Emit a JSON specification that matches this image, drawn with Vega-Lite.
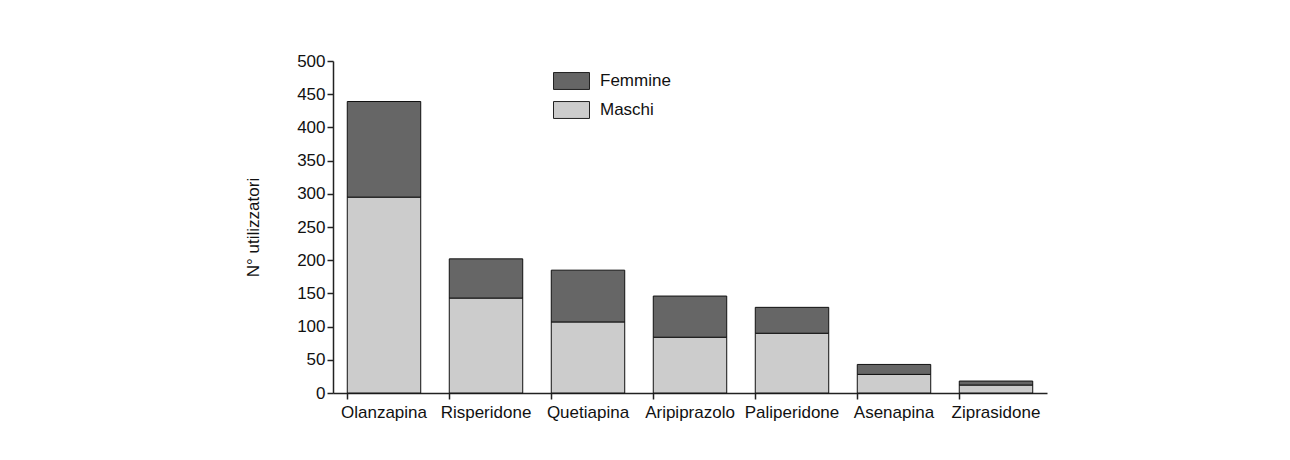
{
  "$schema": "https://vega.github.io/schema/vega-lite/v6.json",
  "autosize": {"type": "none"},
  "padding": {"left": 333, "top": 61, "right": 243, "bottom": 67},
  "width": 714,
  "height": 332,
  "background": "white",
  "config": {
    "view": {"stroke": null},
    "font": "Liberation Sans",
    "axis": {"labelFont": "Liberation Sans", "titleFont": "Liberation Sans", "labelColor": "#111", "titleColor": "#111", "domainColor": "#222", "tickColor": "#222", "grid": false}
  },
  "data": {
    "values": [
      {"farmaco": "Olanzapina", "sesso": "Maschi", "n": 295},
      {"farmaco": "Olanzapina", "sesso": "Femmine", "n": 144},
      {"farmaco": "Risperidone", "sesso": "Maschi", "n": 143},
      {"farmaco": "Risperidone", "sesso": "Femmine", "n": 59},
      {"farmaco": "Quetiapina", "sesso": "Maschi", "n": 107},
      {"farmaco": "Quetiapina", "sesso": "Femmine", "n": 78},
      {"farmaco": "Aripiprazolo", "sesso": "Maschi", "n": 84},
      {"farmaco": "Aripiprazolo", "sesso": "Femmine", "n": 62},
      {"farmaco": "Paliperidone", "sesso": "Maschi", "n": 90},
      {"farmaco": "Paliperidone", "sesso": "Femmine", "n": 39},
      {"farmaco": "Asenapina", "sesso": "Maschi", "n": 28},
      {"farmaco": "Asenapina", "sesso": "Femmine", "n": 15},
      {"farmaco": "Ziprasidone", "sesso": "Maschi", "n": 12},
      {"farmaco": "Ziprasidone", "sesso": "Femmine", "n": 6}
    ]
  },
  "mark": {"type": "bar", "stroke": "#111", "strokeWidth": 1},
  "encoding": {
    "x": {
      "field": "farmaco", "type": "nominal", "sort": null,
      "scale": {"paddingInner": 0.28, "paddingOuter": 0.14},
      "axis": {"title": null, "labelAngle": 0, "labelFontSize": 17, "tickSize": 6, "labelPadding": 5, "bandPosition": 0, "domainWidth": 1.5, "tickWidth": 1.5}
    },
    "y": {
      "field": "n", "type": "quantitative", "stack": "zero",
      "scale": {"domain": [0, 500], "nice": false},
      "axis": {"title": "N° utilizzatori", "values": [0, 50, 100, 150, 200, 250, 300, 350, 400, 450, 500], "labelFontSize": 17, "titleFontSize": 17, "titleFontWeight": "normal", "tickSize": 6, "labelPadding": 2, "domainWidth": 1.5, "tickWidth": 1.5, "titleX": -80, "titleY": 166, "titleAngle": -90, "titleAlign": "center", "titleBaseline": "middle"}
    },
    "color": {
      "field": "sesso", "type": "nominal",
      "scale": {"domain": ["Femmine", "Maschi"], "range": ["#666666", "#cccccc"]},
      "legend": {"title": null, "orient": "none", "legendX": 220, "legendY": 1.5, "labelFontSize": 17, "labelFont": "Liberation Sans", "labelColor": "#111", "symbolType": "M-1,-0.47H1V0.47H-1Z", "symbolSize": 1296, "symbolStrokeColor": "#222", "symbolStrokeWidth": 1, "labelOffset": 10, "rowPadding": -1}
    },
    "order": {"field": "sesso", "sort": "descending"}
  }
}
